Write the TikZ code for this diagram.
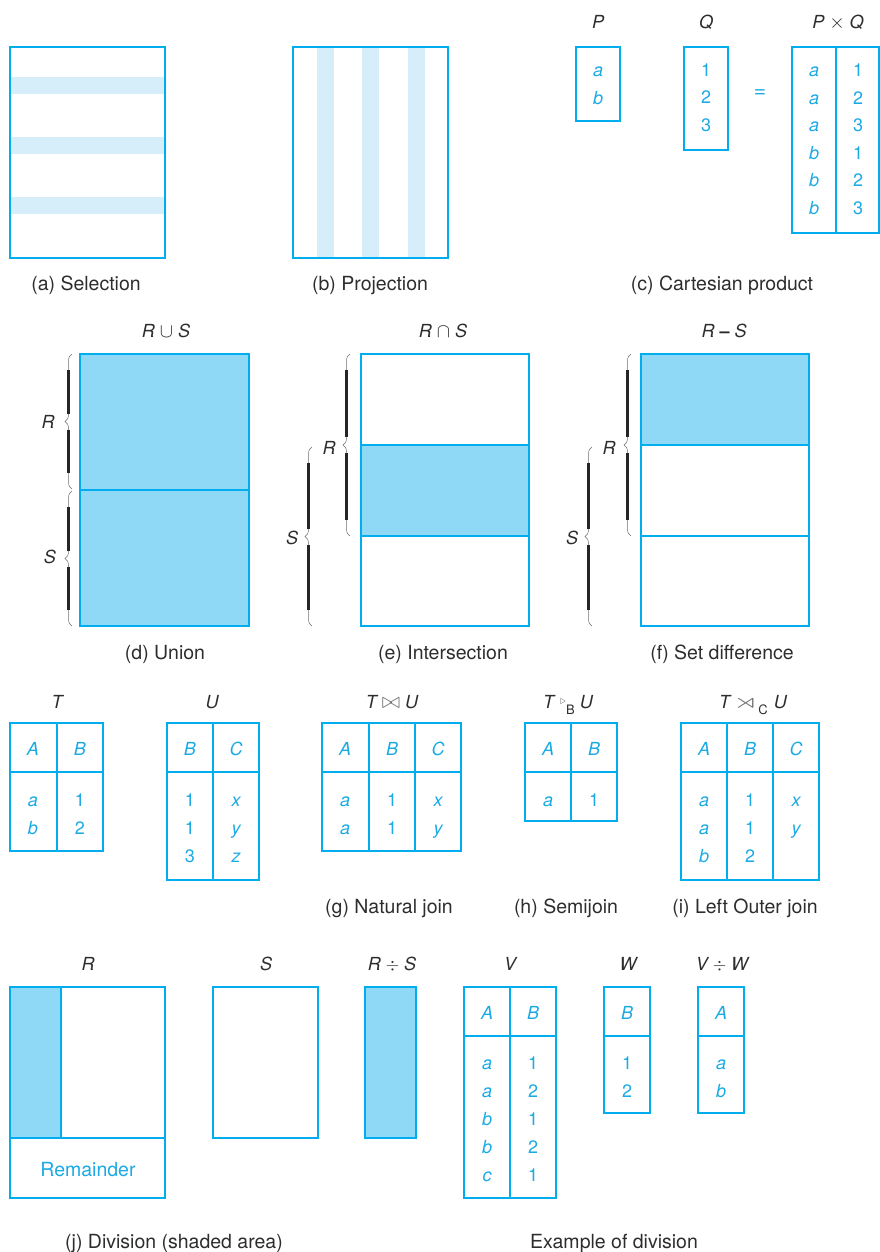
\documentclass[tikz,border=0pt]{standalone}
\usepackage{fontspec}
\setmainfont{TeX Gyre Heros}
\usepackage{amssymb, graphicx}
\usepackage{tikz}
\definecolor{relblue}{RGB}{0, 174, 239}
\definecolor{relfill}{RGB}{143, 216, 246}
\definecolor{relstripe}{RGB}{214, 238, 250}
\definecolor{reltext}{RGB}{27, 170, 228}
\definecolor{labgray}{RGB}{45, 45, 45}
\definecolor{symgray}{RGB}{110, 110, 110}
\usetikzlibrary{decorations.pathreplacing}

\begin{document}
\begin{tikzpicture}[x=1pt, y=-1pt,
			rel/.style={draw=relblue, line width=1.8pt},
			val/.style={text=reltext, font=\fontsize{18}{20}\selectfont\itshape, inner sep=0pt, anchor=base, yshift=-6.5pt},
			num/.style={text=reltext, font=\fontsize{18}{20}\selectfont, inner sep=0pt, anchor=base, yshift=-6.5pt},
			relname/.style={text=labgray, font=\fontsize{18}{20}\selectfont\itshape, inner sep=0pt, anchor=base, yshift=-6.5pt},
			capt/.style={text=labgray, font=\fontsize{19.5}{22}\selectfont, inner sep=0pt, anchor=base, yshift=-7pt},
			bracegray/.style={draw=symgray, line width=0.5pt, decorate, decoration={brace, amplitude=7pt}}]
			%Bildbereich
			\useasboundingbox (0,0) rectangle (879,1252);
			% (a) Selektion
			\foreach \sy in {77,137,197} \fill[relstripe] (11,\sy) rectangle (164,\sy+17);
			\draw[rel] (10,47) rectangle (165,258);
			\node[capt] (capa) at (86,283) {(a) Selection};
			% (b) Projektion
			\foreach \sx in {317,362,408} \fill[relstripe] (\sx,48) rectangle (\sx+17,257);
			\draw[rel] (293,47) rectangle (448,258);
			\node[capt] (capb) at (370,283) {(b) Projection};
			% (c) Kartesisches Produkt
			\node[relname] (lp) at (598,22) {P};
			\draw[rel] (576,47) rectangle (620,121);
			\node[val] (pa) at (598,70) {a};
			\node[val] (pb) at (598,98) {b};
			\node[relname] (lq) at (706,22) {Q};
			\draw[rel] (684,47) rectangle (728,150);
			\foreach \v [count=\i] in {1,2,3} \node[num] (q\i) at (706,{70+27.5*(\i-1)}) {\v};
			\node[text=reltext, font=\fontsize{21}{22}\selectfont, inner sep=0pt] (eq) at (760,94) {=};
			\node[relname] (lpq) at (838,22) {P \scalebox{1.15}{$\times$} Q};
			\draw[rel] (792,47) rectangle (879,233);
			\draw[rel] (836,47) -- (836,233);
			\foreach \u/\v [count=\i] in {a/1,a/2,a/3,b/1,b/2,b/3}{
				\node[val] (pql\i) at (814,{70+27.6*(\i-1)}) {\u};
				\node[num] (pqr\i) at (858,{70+27.6*(\i-1)}) {\v};
			}
			\node[capt] (capc) at (722,283) {(c) Cartesian product};
			% (d) Vereinigung
			\node[relname] (lun) at (166,331) {R \scalebox{1.15}{$\cup$} S};
			\draw[rel, fill=relfill] (80,354) rectangle (249,626);
			\draw[rel] (80,490) -- (249,490);
			\node[capt] (capd) at (165,652) {(d) Union};
			% (e) Durchschnitt
			\node[relname] (lin) at (443,331) {R \scalebox{1.15}{$\cap$} S};
			\draw[rel, fill=relfill] (361,445) rectangle (529,536);
			\draw[rel] (361,354) rectangle (529,626);
			\node[capt] (cape) at (443,652) {(e) Intersection};
			% (f) Differenz
			\node[relname] (ldi) at (724,331) {R \textup{\bfseries\textendash} S};
			\draw[rel, fill=relfill] (641,354) rectangle (809,445);
			\draw[rel] (641,354) rectangle (809,626);
			\draw[rel] (641,536) -- (809,536);
			\node[capt] (capf) at (722,652) {(f) Set difference};
			% Klammern
			\foreach \bx/\btop/\bbot in {72/354/489, 72/491/626, 350/354/536, 312/447/626, 631/354/536, 592/447/626}{
				\draw[bracegray] (\bx,\bbot) -- (\bx,\btop);
				\draw[black!85, line width=2.2pt] (\bx-3.5,\btop+16) -- (\bx-3.5,{(\btop+\bbot)/2-8});
				\draw[black!85, line width=2.2pt] (\bx-3.5,{(\btop+\bbot)/2+8}) -- (\bx-3.5,\bbot-16);
			}
			\foreach \bl/\lx/\ly in {R/48/422, S/50/557, R/329/448, S/292/538, R/609/448, S/572/538}
				\node[relname] at (\lx,\ly) {\bl};
			% Tabelle T
			\node[relname] (lt) at (57,702) {T};
			\draw[rel] (10,723) rectangle (103,851);
			\draw[rel] (57,723) -- (57,851);
			\draw[rel] (10,772) -- (103,772);
			\node[val] at (33,749) {A};
			\node[val] at (80,749) {B};
			\foreach \u/\v [count=\i] in {a/1,b/2}{
				\node[val] at (33,{800+28*(\i-1)}) {\u};
				\node[num] at (80,{800+28*(\i-1)}) {\v};
			}
			% Tabelle U
			\node[relname] (lu) at (212,702) {U};
			\draw[rel] (167,723) rectangle (259,880);
			\draw[rel] (213,723) -- (213,880);
			\draw[rel] (167,772) -- (259,772);
			\node[val] at (190,749) {B};
			\node[val] at (236,749) {C};
			\foreach \u/\v [count=\i] in {1/x,1/y,3/z}{
				\node[num] at (190,{800+28*(\i-1)}) {\u};
				\node[val] at (236,{800+28*(\i-1)}) {\v};
			}
			% (g) Natural join
			\node[relname] (ljo) at (392,702) {T {\color{symgray}\scalebox{1.3}{$\bowtie$}} U};
			\draw[rel] (322,723) rectangle (461,851);
			\foreach \cx in {369,415} \draw[rel] (\cx,723) -- (\cx,851);
			\draw[rel] (322,772) -- (461,772);
			\foreach \h/\hx in {A/345,B/392,C/438} \node[val] at (\hx,749) {\h};
			\foreach \u/\v/\w [count=\i] in {a/1/x,a/1/y}{
				\node[val] at (345,{800+28*(\i-1)}) {\u};
				\node[num] at (392,{800+28*(\i-1)}) {\v};
				\node[val] at (438,{800+28*(\i-1)}) {\w};
			}
			\node[capt] (capg) at (389,906) {(g) Natural join};
			% (h) Semijoin
			\node[relname] (lse) at (568,702) {T\hspace{6pt}{\color{symgray}\raisebox{4pt}{\fontsize{12}{12}\selectfont$\triangleright$}}\raisebox{-6pt}{\fontsize{13}{13}\selectfont\upshape B}\hspace{5pt}U};
			\draw[rel] (525,723) rectangle (617,821);
			\draw[rel] (571,723) -- (571,821);
			\draw[rel] (525,772) -- (617,772);
			\node[val] at (548,749) {A};
			\node[val] at (594,749) {B};
			\node[val] at (548,800) {a};
			\node[num] at (594,800) {1};
			\node[capt] (caph) at (566,906) {(h) Semijoin};
			% (i) Left Outer join
			\node[relname] (llo) at (753,702) {T\hspace{3pt}{\color{symgray}\scalebox{1.8}[1.15]{$\rtimes$}}\raisebox{-6pt}{\fontsize{13}{13}\selectfont\upshape C}\hspace{6pt}U};
			\draw[rel] (681,723) rectangle (819,880);
			\foreach \cx in {727,773} \draw[rel] (\cx,723) -- (\cx,880);
			\draw[rel] (681,772) -- (819,772);
			\foreach \h/\hx in {A/704,B/750,C/796} \node[val] at (\hx,749) {\h};
			\foreach \u/\v [count=\i] in {a/1,a/1,b/2}{
				\node[val] at (704,{800+28*(\i-1)}) {\u};
				\node[num] at (750,{800+28*(\i-1)}) {\v};
			}
			\node[val] at (796,800) {x};
			\node[val] at (796,828) {y};
			\node[capt] (capi) at (745,906) {(i) Left Outer join};
			% (j) Division
			\node[relname] (lr) at (88,964) {R};
			\fill[relfill] (10,987) rectangle (61,1138);
			\draw[rel] (10,987) rectangle (165,1198);
			\draw[rel] (10,1138) -- (165,1138);
			\draw[rel] (61,987) -- (61,1138);
			\node[text=reltext, font=\fontsize{19.5}{22}\selectfont, inner sep=0pt, anchor=base, yshift=-7pt] (rem) at (88,1169) {Remainder};
			\node[relname] (ls) at (266,964) {S};
			\draw[rel] (213,987) rectangle (318,1138);
			\node[relname] (lrs) at (392,964) {R $\div$ S};
			\draw[rel, fill=relfill] (365,987) rectangle (416,1138);
			\node[capt] (capj) at (174,1241) {(j) Division (shaded area)};
			% Beispiel Division
			\node[relname] (lv) at (510,964) {V};
			\draw[rel] (464,987) rectangle (556,1198);
			\draw[rel] (510,987) -- (510,1198);
			\draw[rel] (464,1036) -- (556,1036);
			\node[val] at (487,1013) {A};
			\node[val] at (533,1013) {B};
			\foreach \u/\v [count=\i] in {a/1,a/2,b/1,b/2,c/1}{
				\node[val] at (487,{1063+28*(\i-1)}) {\u};
				\node[num] at (533,{1063+28*(\i-1)}) {\v};
			}
			\node[relname] (lw) at (628,964) {W};
			\draw[rel] (604,987) rectangle (650,1113);
			\draw[rel] (604,1036) -- (650,1036);
			\node[val] at (627,1013) {B};
			\node[num] at (627,1063) {1};
			\node[num] at (627,1091) {2};
			\node[relname] (lvw) at (722,964) {V $\div$ W};
			\draw[rel] (698,987) rectangle (744,1113);
			\draw[rel] (698,1036) -- (744,1036);
			\node[val] at (721,1013) {A};
			\node[val] at (721,1063) {a};
			\node[val] at (721,1091) {b};
			\node[capt] (capx) at (614,1241) {Example of division};
		\end{tikzpicture}
\end{document}
